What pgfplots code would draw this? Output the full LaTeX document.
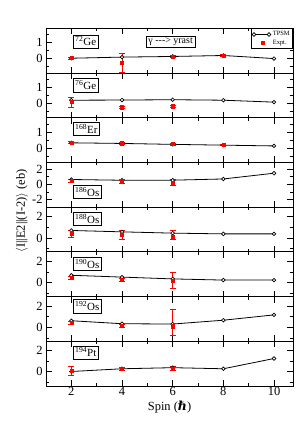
\documentclass[border=0pt]{standalone}
\usepackage{fontspec}
\setmainfont{Liberation Serif}
\newfontfamily\dvs{DejaVu Serif}
\usepackage{pgfplots}
\pgfplotsset{compat=1.18}
\pgfplotsset{
 panel/.style={
  width=247bp, height=44.71bp, scale only axis,
  xmin=1, xmax=10.75,
  xtick={2,4,6,8,10}, minor xtick={3,5,7,9},
  xticklabels={},
  tick align=inside,
  major tick length=6bp, minor tick length=3bp,
  every tick/.style={black, line width=0.8bp},
  axis line style={line width=1bp},
  tick label style={font=\fontsize{12.5}{12.5}\selectfont},
  xticklabel style={inner sep=1.5bp},
  /pgf/number format/assume math mode=true,
  clip=true,
 },
 smallpanel/.style={ytick={0,1}, minor ytick={-0.5,0.5,1.5}},
 bigpanel/.style={ytick={0,2}, minor ytick={-1,1}, ymin=-1.3, ymax=2.9},
 tpsm/.style={black, line width=0.8bp, mark=*, mark size=1.8bp, mark options={fill=white, draw=black, line width=0.7bp},
   legend image code/.code={\draw[##1] plot coordinates {(0bp,0bp) (15bp,0bp)};}},
 expt/.style={only marks, red, mark=square*, mark size=1.6bp,
   error bars/y dir=both, error bars/y explicit,
   error bars/error bar style={red, line width=0.6bp},
   error bars/error mark options={red, mark size=3bp, line width=0.6bp, rotate=90}},
}
\tikzset{lab/.style={draw, line width=0.6bp, inner sep=2bp, anchor=north west, font=\fontsize{11}{11}\selectfont}}
\begin{document}
\begin{tikzpicture}
\useasboundingbox (-46bp,-37bp) rectangle (253bp,386bp);
% 1: 72Ge
\begin{axis}[panel, smallpanel, at={(0,312.97bp)}, ymin=-0.9, ymax=1.88,
  legend style={at={(1,1)}, anchor=north east, draw=black, line width=0.6bp, inner sep=1bp, row sep=-1.5bp,
    font=\fontsize{6.5}{7}\selectfont, cells={anchor=west}}]
\addplot[tpsm] coordinates {(2,0.02)(4,0.09)(6,0.13)(8,0.19)(10,0.0)};
\addplot[expt] coordinates {(2,0.03) +- (0,0.07) (4,-0.27) +- (0,0.6) (6,0.13) +- (0,0.08) (8,0.2) +- (0,0.08)};
\legend{TPSM, Expt.}
\node[lab] at (rel axis cs:0.109,0.86) {\textsuperscript{72}Ge};
\node[draw, line width=0.6bp, inner sep=2bp, font=\fontsize{10}{10}\selectfont] at (axis cs:5.92,1.04) {γ -\kern0pt-\kern0pt-> yrast};
\end{axis}
% 2: 76Ge
\begin{axis}[panel, smallpanel, at={(0,268.26bp)}, ymin=-0.9, ymax=1.88]
\addplot[tpsm] coordinates {(2,0.19)(4,0.2)(6,0.22)(8,0.19)(10,0.07)};
\addplot[expt] coordinates {(2,0.08) +- (0,0.3) (4,-0.24) +- (0,0.06) (6,-0.18) +- (0,0.06)};
\node[lab] at (rel axis cs:0.109,0.88) {\textsuperscript{76}Ge};
\end{axis}
% 3: 168Er
\begin{axis}[panel, smallpanel, at={(0,223.55bp)}, ymin=-0.92, ymax=1.95]
\addplot[tpsm] coordinates {(2,0.34)(4,0.3)(6,0.24)(8,0.19)(10,0.14)};
\addplot[expt] coordinates {(2,0.36) +- (0,0.05) (4,0.31) +- (0,0.05) (6,0.26) +- (0,0.06) (8,0.2) +- (0,0.05)};
\node[lab] at (rel axis cs:0.109,0.9) {\textsuperscript{168}Er};
\end{axis}
% 4: 186Os
\begin{axis}[panel, at={(0,178.84bp)}, ymin=-3, ymax=2.9, ytick={-2,0,2}, minor ytick={-1,1}]
\addplot[tpsm] coordinates {(2,0.65)(4,0.55)(6,0.56)(8,0.72)(10,1.48)};
\addplot[expt] coordinates {(2,0.5) +- (0,0.2) (4,0.42) +- (0,0.3) (6,0.28) +- (0,0.36)};
\node[lab] at (rel axis cs:0.109,0.5) {\textsuperscript{186}Os};
\end{axis}
% 5: 188Os
\begin{axis}[panel, bigpanel, at={(0,134.13bp)}]
\addplot[tpsm] coordinates {(2,0.71)(4,0.58)(6,0.46)(8,0.39)(10,0.39)};
\addplot[expt] coordinates {(2,0.45) += (0,0.3) -= (0,0.42) (4,0.29) +- (0,0.39) (6,0.12) += (0,0.6) -= (0,0.25)};
\node[lab] at (rel axis cs:0.109,0.885) {\textsuperscript{188}Os};
\end{axis}
% 6: 190Os
\begin{axis}[panel, bigpanel, at={(0,89.42bp)}]
\addplot[tpsm] coordinates {(2,0.7)(4,0.53)(6,0.36)(8,0.25)(10,0.25)};
\addplot[expt] coordinates {(2,0.47) +- (0,0.15) (4,0.25) +- (0,0.15) (6,0.22) +- (0,0.76)};
\node[lab] at (rel axis cs:0.109,0.885) {\textsuperscript{190}Os};
\end{axis}
% 7: 192Os
\begin{axis}[panel, bigpanel, at={(0,44.71bp)}]
\addplot[tpsm] coordinates {(2,0.63)(4,0.35)(6,0.32)(8,0.68)(10,1.18)};
\addplot[expt] coordinates {(2,0.45) +- (0,0.12) (4,0.15) +- (0,0.1) (6,0.12) += (0,1.56) -= (0,0.84)};
\node[lab] at (rel axis cs:0.109,0.935) {\textsuperscript{192}Os};
\end{axis}
% 8: 194Pt
\begin{axis}[panel, at={(0,0bp)}, ymin=-1.3, ymax=2.8, ytick={0,2}, minor ytick={-1,1},
  xticklabels={2,4,6,8,10}]
\addplot[tpsm] coordinates {(2,0.03)(4,0.28)(6,0.38)(8,0.28)(10,1.22)};
\addplot[expt] coordinates {(2,0.1) +- (0,0.45) (4,0.28) +- (0,0.1) (6,0.3) +- (0,0.2)};
\node[lab] at (rel axis cs:0.109,0.905) {\textsuperscript{194}Pt};
\end{axis}
\node[rotate=90, font=\fontsize{12.5}{12.5}\selectfont] at (-24bp,175bp) {$\langle$I||E2||(I-2)$\rangle$ (eb)};
\node[font=\fontsize{12.5}{12.5}\selectfont, inner sep=0.5bp] at (123.5bp,-21bp) {Spin ({\dvs\bfseries\itshape ℏ})};
\end{tikzpicture}
\end{document}
